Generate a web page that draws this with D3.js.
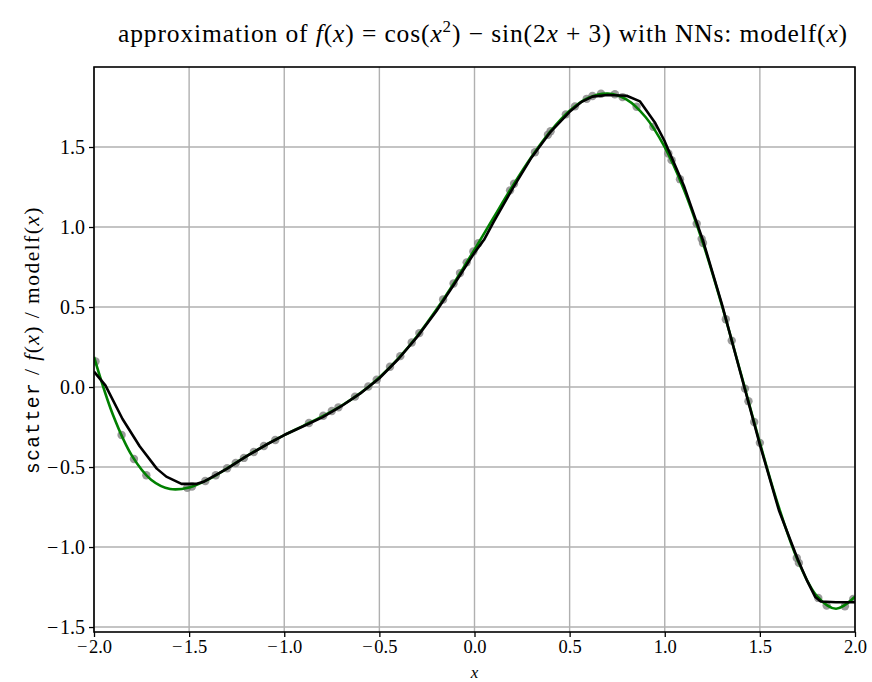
<!DOCTYPE html>
<html>
<head>
<meta charset="utf-8">
<script src="https://cdn.jsdelivr.net/npm/d3@7"></script>
<style>
  html, body { margin: 0; padding: 0; background: #fff; }
  svg { display: block; }
  text { font-family: "Liberation Serif", "Times New Roman", serif; fill: #000; }
</style>
</head>
<body>
<div id="chart"></div>
<script>
// Sample grid for the target function f(x) = cos(x^2) - sin(2x + 3)
const fX = [-2.0, -1.9, -1.8, -1.7, -1.6, -1.5, -1.4, -1.3, -1.2, -1.1, -1.0,
            -0.9, -0.8, -0.7, -0.6, -0.5, -0.4, -0.3, -0.2, -0.1, 0.0,
             0.1, 0.2, 0.3, 0.4, 0.5, 0.6, 0.7, 0.8, 0.9, 1.0,
             1.1, 1.2, 1.3, 1.4, 1.5, 1.6, 1.7, 1.8, 1.9, 2.0];
const fY = [0.188, -0.175, -0.4305, -0.579, -0.637, -0.628, -0.578, -0.508, -0.434, -0.364, -0.301,
            -0.2425, -0.183, -0.117, -0.038, 0.060, 0.179, 0.3205, 0.484, 0.665, 0.859,
             1.058, 1.255, 1.4385, 1.599, 1.726, 1.8075, 1.834, 1.796, 1.686, 1.499,
             1.2365, 0.903, 0.512, 0.085, -0.349, -0.7525, -1.085, -1.307, -1.386, -1.311];

// Network output modelf(x) (piecewise-linear ReLU fit)
const modelX = [-2.0, -1.94, -1.85, -1.76, -1.67, -1.62, -1.54, -1.46, -1.42, -1.3, -1.2, -1.1, -1.0,
                -0.9, -0.8, -0.7, -0.6, -0.5, -0.4, -0.3, -0.2, -0.1, 0.0, 0.05, 0.1,
                 0.2, 0.3, 0.4, 0.5, 0.56, 0.62, 0.7, 0.8, 0.87, 0.95, 1.0,
                 1.1, 1.2, 1.3, 1.4, 1.5, 1.6, 1.7, 1.75, 1.79, 1.82, 1.9, 2.0];
const modelY = [0.096, 0.01, -0.20, -0.37, -0.51, -0.56, -0.605, -0.605, -0.59, -0.51, -0.434, -0.364, -0.30,
                -0.245, -0.19, -0.12, -0.04, 0.055, 0.175, 0.315, 0.475, 0.655, 0.84, 0.92, 1.03,
                 1.24, 1.435, 1.595, 1.72, 1.78, 1.815, 1.825, 1.82, 1.785, 1.65, 1.535,
                 1.26, 0.92, 0.52, 0.08, -0.36, -0.77, -1.08, -1.215, -1.31, -1.34, -1.345, -1.345];

// Training samples
const scatterX = [-1.992, -1.855, -1.79, -1.725, -1.51, -1.485, -1.415, -1.36, -1.30, -1.255, -1.212,
                  -1.16, -1.107, -1.047, -0.87, -0.795, -0.75, -0.715, -0.628, -0.558, -0.514,
                  -0.444, -0.39, -0.33, -0.29, -0.165, -0.11, -0.076, -0.041, -0.006, 0.02,
                   0.187, 0.208, 0.318, 0.386, 0.40, 0.48, 0.528, 0.59, 0.62, 0.665,
                   0.738, 0.778, 0.852, 0.94, 1.019, 1.036, 1.08, 1.168, 1.194, 1.201,
                   1.321, 1.352, 1.422, 1.44, 1.47, 1.5, 1.694, 1.705, 1.807, 1.851, 1.947, 1.991];
const scatterY = [0.16, -0.30, -0.45, -0.551, -0.63, -0.622, -0.587, -0.551, -0.508, -0.475, -0.443,
                  -0.406, -0.369, -0.331, -0.225, -0.180, -0.150, -0.127, -0.060, 0.003, 0.046,
                   0.127, 0.193, 0.278, 0.337, 0.547, 0.647, 0.712, 0.779, 0.847, 0.899,
                   1.229, 1.270, 1.467, 1.577, 1.599, 1.704, 1.754, 1.801, 1.819, 1.833,
                   1.830, 1.812, 1.752, 1.626, 1.459, 1.418, 1.299, 1.021, 0.926, 0.900,
                   0.424, 0.290, -0.01, -0.089, -0.219, -0.349, -1.068, -1.099, -1.318, -1.366, -1.370, -1.325];

const xTicks = [-2.0, -1.5, -1.0, -0.5, 0.0, 0.5, 1.0, 1.5, 2.0];
const yTicks = [-1.5, -1.0, -0.5, 0.0, 0.5, 1.0, 1.5];

const W = 872, H = 682;
const margin = { left: 94, right: 17, top: 67, bottom: 50 };
const iw = W - margin.left - margin.right;
const ih = H - margin.top - margin.bottom;

const fmt = v => (v < 0 ? "\u2212\u200A" : "") + Math.abs(v).toFixed(1);

const svg = d3.select("#chart").append("svg").attr("width", W).attr("height", H);

const x = d3.scaleLinear().domain([-2, 2]).range([0, iw]);
const y = d3.scaleLinear().domain([-1.531, 2.0]).range([ih, 0]);

const g = svg.append("g").attr("transform", `translate(${margin.left},${margin.top})`);

// grid
g.append("g").selectAll("line").data(xTicks).join("line")
  .attr("x1", d => x(d)).attr("x2", d => x(d)).attr("y1", 0).attr("y2", ih)
  .attr("stroke", "#b0b0b0").attr("stroke-width", 1.4);
g.append("g").selectAll("line").data(yTicks).join("line")
  .attr("y1", d => y(d)).attr("y2", d => y(d)).attr("x1", 0).attr("x2", iw)
  .attr("stroke", "#b0b0b0").attr("stroke-width", 1.4);

svg.append("clipPath").attr("id", "plotclip")
  .append("rect").attr("width", iw).attr("height", ih);
const plot = g.append("g").attr("clip-path", "url(#plotclip)");

// scatter samples
plot.append("g").selectAll("circle").data(scatterX.map((d, i) => [d, scatterY[i]])).join("circle")
  .attr("cx", d => x(d[0])).attr("cy", d => y(d[1])).attr("r", 4.2)
  .attr("fill", "#7a7a7a").attr("fill-opacity", 0.75);

// target function
const fLine = d3.line().x(d => x(d[0])).y(d => y(d[1])).curve(d3.curveCatmullRom.alpha(0.5));
plot.append("path").datum(fX.map((d, i) => [d, fY[i]]))
  .attr("d", fLine).attr("fill", "none").attr("stroke", "#008000").attr("stroke-width", 2.6);

// model output
const mLine = d3.line().x(d => x(d[0])).y(d => y(d[1])).curve(d3.curveLinear);
plot.append("path").datum(modelX.map((d, i) => [d, modelY[i]]))
  .attr("d", mLine).attr("fill", "none").attr("stroke", "#000").attr("stroke-width", 2.6)
  .attr("stroke-linejoin", "round");

// axes
const xAxis = d3.axisBottom(x).tickValues(xTicks).tickFormat(fmt).tickSize(5).tickPadding(3);
const yAxis = d3.axisLeft(y).tickValues(yTicks).tickFormat(fmt).tickSize(5).tickPadding(4);
const gx = g.append("g").attr("transform", `translate(0,${ih})`).call(xAxis);
const gy = g.append("g").call(yAxis);
[gx, gy].forEach(a => {
  a.select(".domain").remove();
  a.selectAll(".tick line").attr("stroke", "#000").attr("stroke-width", 1.3);
  a.selectAll(".tick text").attr("font-family", "Liberation Serif, serif").attr("fill", "#000");
});
gx.selectAll(".tick text").attr("font-size", 18.5);
gy.selectAll(".tick text").attr("font-size", 20);

// frame
g.append("rect").attr("width", iw).attr("height", ih)
  .attr("fill", "none").attr("stroke", "#000").attr("stroke-width", 1.6);

// spread a text element's glyphs so it spans the given width
function fitWidth(sel, target) {
  const node = sel.node();
  const n = node.textContent.length;
  const w = node.getComputedTextLength();
  sel.attr("letter-spacing", ((target - w) / n).toFixed(2));
}

// title
const title = svg.append("text").attr("x", 483).attr("y", 42).attr("text-anchor", "middle")
  .attr("font-size", 25.5);
const parts = [
  ["approximation of ", false], ["f", true], ["(", false], ["x", true], [") = cos(", false],
  ["x", true], ["2", "sup"], [") \u2212 sin(2", false], ["x", true], [" + 3) with NNs: modelf(", false],
  ["x", true], [")", false]
];
parts.forEach(([t, s]) => {
  const ts = title.append("tspan").text(t);
  if (s === true) ts.attr("font-style", "italic");
  if (s === "sup") ts.attr("font-size", 17).attr("dy", -10);
  if (t.startsWith(") \u2212")) ts.attr("dy", 10);
});
fitWidth(title, 730);

// x label
svg.append("text").attr("x", margin.left + iw / 2).attr("y", 678).attr("text-anchor", "middle")
  .attr("font-size", 17).attr("font-style", "italic").text("x");

// y label
const yl = svg.append("text").attr("transform", "translate(39,340) rotate(-90)")
  .attr("text-anchor", "middle").attr("font-size", 21.5);
yl.append("tspan").attr("font-family", "Liberation Mono, monospace").attr("font-size", 19.5).text("scatter");
yl.append("tspan").text(" / ");
yl.append("tspan").attr("font-style", "italic").text("f");
yl.append("tspan").text("(");
yl.append("tspan").attr("font-style", "italic").text("x");
yl.append("tspan").text(") / modelf(");
yl.append("tspan").attr("font-style", "italic").text("x");
yl.append("tspan").text(")");
fitWidth(yl, 268);
</script>
</body>
</html>
